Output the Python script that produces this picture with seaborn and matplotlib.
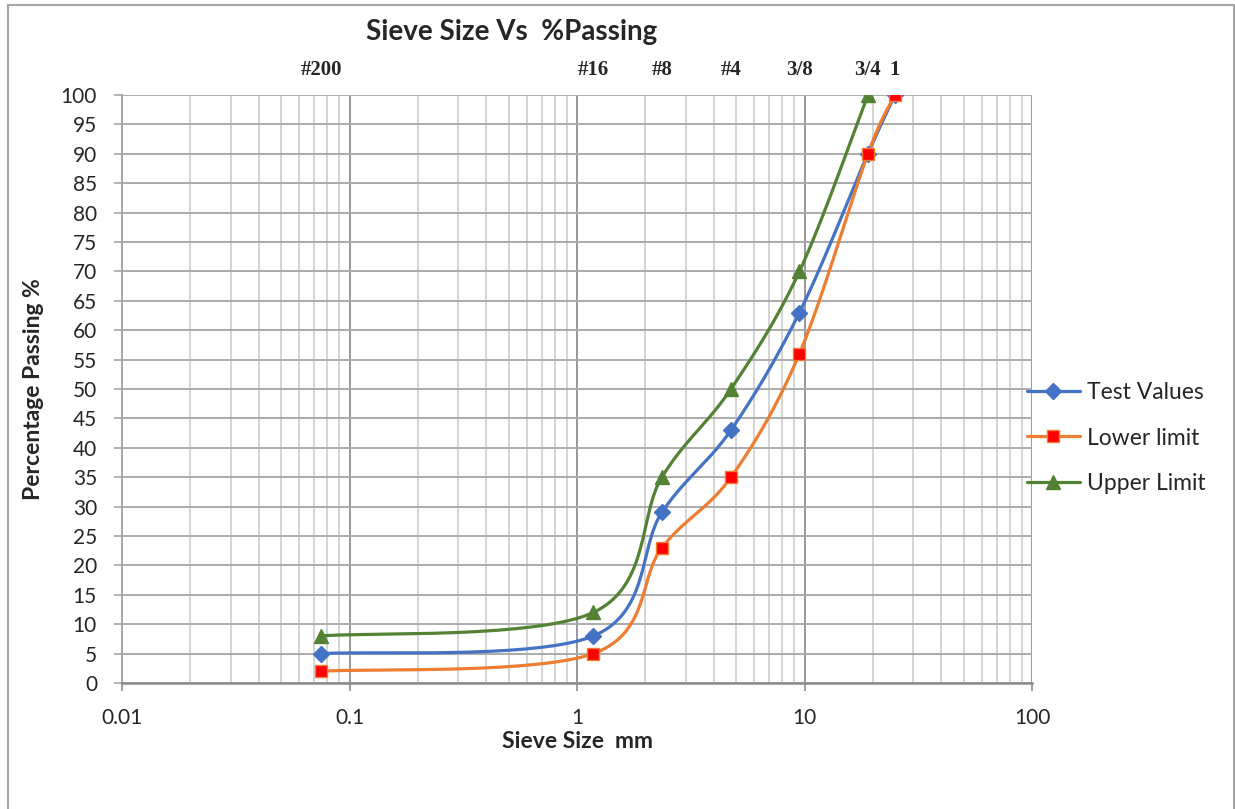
import numpy as np
import pandas as pd
import matplotlib
matplotlib.use("Agg")
import matplotlib.pyplot as plt
import matplotlib.ticker as mticker
import matplotlib.transforms as mtransforms
from matplotlib.lines import Line2D
from matplotlib.patches import Rectangle
import seaborn as sns

# sieve data
sieve_mm = [0.075, 1.18, 2.36, 4.75, 9.5, 19, 25]
sieve_names = ["#200", "#16", "#8", "#4", "3/8", "3/4", "1"]
test_values = [5, 8, 29, 43, 63, 90, 100]
lower_limit = [2, 5, 23, 35, 56, 90, 100]
upper_sieve = [0.075, 1.18, 2.36, 4.75, 9.5, 19]
upper_limit = [8, 12, 35, 50, 70, 100]


def excel_smooth(xs, ys, n=40):
    # bezier smoothing like excel's "smoothed line", done in log-x space
    P = np.column_stack([np.log10(xs), np.asarray(ys, dtype=float)])
    out = []
    t = np.linspace(0, 1, n)[:, None]
    for i in range(len(P) - 1):
        p0 = P[i - 1] if i > 0 else P[i]
        p1, p2 = P[i], P[i + 1]
        p3 = P[i + 2] if i + 2 < len(P) else P[i + 1]
        c1 = p1 + (p2 - p0) / 6
        c2 = p2 - (p3 - p1) / 6
        seg = (1 - t) ** 3 * p1 + 3 * (1 - t) ** 2 * t * c1 + 3 * (1 - t) * t ** 2 * c2 + t ** 3 * p2
        out.append(seg if i == 0 else seg[1:])
    out = np.vstack(out)
    return pd.DataFrame({"size": 10 ** out[:, 0], "passing": out[:, 1]})


sns.set_style("white")
plt.rcParams["font.family"] = ["Lato", "DejaVu Sans"]

fig = plt.figure(figsize=(12.35, 8.09), dpi=100)
ax = fig.add_axes([122 / 1235, 126 / 809, 910 / 1235, 588 / 809])

series = [
    ("Test Values", sieve_mm, test_values, "#4472C4", "D", "#4472C4", "#4472C4", 8),
    ("Lower limit", sieve_mm, lower_limit, "#ED7D31", "s", "#FF0000", "#ED7D31", 9),
    ("Upper Limit", upper_sieve, upper_limit, "#548235", "^", "#548235", "#548235", 10),
]

handles = []
for name, xs, ys, col, mk, mfc, mec, ms in series:
    curve = excel_smooth(xs, ys)
    sns.lineplot(data=curve, x="size", y="passing", ax=ax, color=col, lw=2.3,
                 sort=False, estimator=None, zorder=3)
    ax.plot(xs, ys, ls="none", marker=mk, ms=ms, mfc=mfc, mec=mec, mew=1, zorder=4)
    handles.append(Line2D([], [], color=col, lw=2.3, marker=mk, ms=ms, mfc=mfc, mec=mec))

ax.set_xscale("log")
ax.set_xlim(0.01, 100)
ax.set_ylim(0, 100)
ax.set_yticks(range(0, 101, 5))
ax.xaxis.set_major_locator(mticker.LogLocator(base=10, numticks=10))
ax.xaxis.set_minor_locator(mticker.LogLocator(base=10, subs=np.arange(2, 10), numticks=50))
ax.xaxis.set_major_formatter(mticker.FuncFormatter(lambda v, p: f"{v:g}"))
ax.xaxis.set_minor_formatter(mticker.NullFormatter())

ax.grid(True, which="major", axis="y", color="#ABABAB", lw=1.4)
ax.grid(True, which="major", axis="x", color="#999999", lw=1.4)
ax.grid(True, which="minor", axis="x", color="#D4D4D4", lw=1.4)
ax.set_axisbelow(True)

for s in ["top", "right"]:
    ax.spines[s].set_visible(False)
ax.spines["left"].set_color("#A6A6A6")
ax.spines["bottom"].set_color("#8C8C8C")
ax.spines["left"].set_linewidth(1.4)
ax.spines["bottom"].set_linewidth(1.8)

ax.tick_params(axis="y", which="major", direction="out", length=6, width=1.2,
               color="#A6A6A6", pad=12, labelsize=15, left=True)
ax.tick_params(axis="x", which="major", direction="out", length=6, width=1.2,
               color="#8C8C8C", pad=12, labelsize=15, bottom=True)
ax.tick_params(axis="x", which="minor", length=0)

ax.set_xlabel("Sieve Size  mm", fontsize=16.5, fontweight="bold", labelpad=2)
ax.set_ylabel("Percentage Passing %", fontsize=16.5, fontweight="bold", labelpad=12)

# sieve names above the plot
trans = mtransforms.blended_transform_factory(ax.transData, ax.transAxes)
for xv, lab in zip(sieve_mm, sieve_names):
    ax.text(xv, 1.043, lab, transform=trans, ha="center", va="center",
            fontsize=15, fontweight="bold", family="Liberation Serif")

fig.text(512 / 1235, 1 - 32 / 809, "Sieve Size Vs  %Passing", ha="center", va="center",
         fontsize=20, fontweight="bold")

ax.legend(handles, [s[0] for s in series], loc="center left",
          bbox_to_anchor=(1027 / 1235, 1 - 438 / 809), bbox_transform=fig.transFigure,
          frameon=False, fontsize=16.5, handlelength=2.3, handletextpad=0.3,
          labelspacing=1.05, borderpad=0, borderaxespad=0)

fig.patches.append(Rectangle((8 / 1235, -0.02), 1226 / 1235, 1.02 - 5 / 809,
                             transform=fig.transFigure, fill=False,
                             edgecolor="#A6A6A6", lw=1.5))

fig.savefig("out.png", dpi=100, facecolor="white")
